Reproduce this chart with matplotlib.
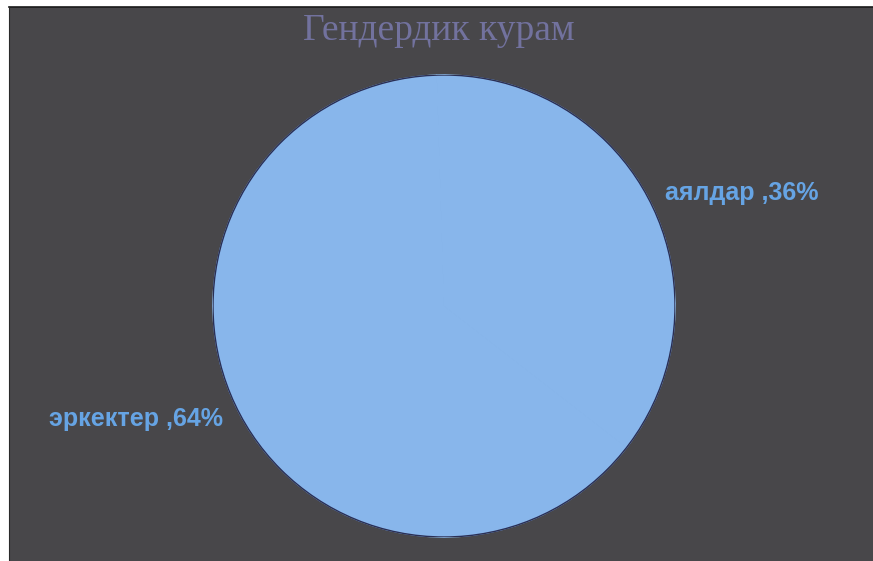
import matplotlib.pyplot as plt
from matplotlib.patches import Rectangle

# data
categories = ['аялдар', 'эркектер']
percents = [36, 64]
title = 'Гендердик курам'

fond = '#48474a'
bleu = '#88b6eb'
bleu_texte = '#66a4e4'

fig = plt.figure(figsize=(8.73, 5.61), dpi=100)
fig.patch.set_facecolor('white')

# dark panel with white margin on left and top
fig.patches.append(Rectangle((9 / 873, 0), 1 - 9 / 873, 1 - 7 / 561,
                             transform=fig.transFigure, facecolor=fond,
                             edgecolor='none', zorder=-5))
fig.lines.append(plt.Line2D([9 / 873, 1], [1 - 7 / 561, 1 - 7 / 561],
                            transform=fig.transFigure, color='#1a1a1a', lw=1.2, zorder=-4))
fig.lines.append(plt.Line2D([9 / 873, 9 / 873], [0, 1 - 7 / 561],
                            transform=fig.transFigure, color='#2a2a2a', lw=0.8, zorder=-4))

cx, cy, r = 444, 306, 231
ax = fig.add_axes([(cx - r) / 873, (561 - cy - r) / 561, 2 * r / 873, 2 * r / 561])
ax.set_facecolor('none')
ax.set_zorder(1)

labels = [f'{c} ,{p}%' for c, p in zip(categories, percents)]
wedges, texts = ax.pie(percents, labels=labels, colors=[bleu, bleu],
                       startangle=-37.8, labeldistance=1.075,
                       wedgeprops={'linewidth': 1.0, 'edgecolor': bleu})
for t in texts:
    t.set_color(bleu_texte)
    t.set_fontsize(18)
    t.set_fontweight('bold')
    t.set_fontfamily('Liberation Sans')

# thin dark rim around the pie
circle = plt.Circle((0, 0), 1, fill=False, edgecolor='#2a2f55', lw=1.0)
ax.add_patch(circle)
ax.set_xlim(-1, 1)
ax.set_ylim(-1, 1)
ax.set_aspect('equal')
ax.axis('off')

fig.text(439 / 873, 1 - 40 / 561, title, ha='center', va='baseline',
         fontsize=27, family='Liberation Serif',
         color='#72729e', zorder=2)

fig.savefig('out.png', dpi=100, facecolor=fig.get_facecolor())
